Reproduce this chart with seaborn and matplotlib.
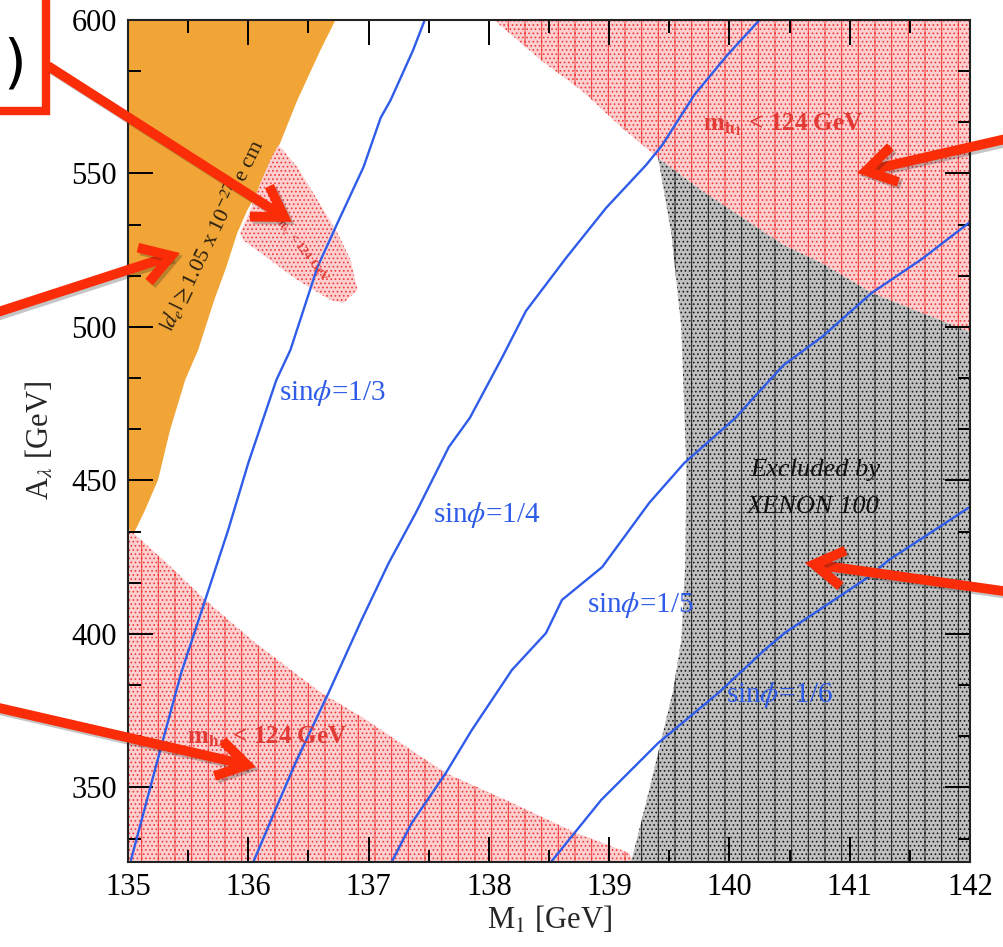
import matplotlib
matplotlib.use("Agg")
import matplotlib.pyplot as plt
import matplotlib.patheffects as pe
from matplotlib.patches import Rectangle, FancyArrowPatch
from matplotlib.ticker import MultipleLocator
import seaborn as sns

# ---------------- data (M1 [GeV], A_lambda [GeV]) ----------------
# boundary of |d_e| >= 1.05e-27 e cm region (orange), top -> bottom
edm_M = [136.725, 136.6, 136.408, 136.242, 136.125, 135.992, 135.908, 135.817,
         135.717, 135.583, 135.475, 135.35, 135.25, 135.142, 135.075, 135.0]
edm_A = [600.0, 590.2, 573.9, 557.7, 546.9, 538.1, 530.6, 519.5,
         508.8, 492.5, 482.7, 466.5, 450.2, 440.4, 434.9, 429.0]

# lower m_h1 < 124 GeV region boundary (left -> right)
mhlow_M = [135.0, 135.358, 135.642, 136.058, 136.608, 136.942, 137.642,
           138.192, 138.725, 139.167, 139.2]
mhlow_A = [434.5, 421.8, 411.1, 397.1, 380.8, 373.0, 354.7,
           345.0, 335.2, 328.7, 325.73]

# upper-right m_h1 < 124 GeV region lower boundary (left -> right)
mhup_M = [138.042, 138.442, 138.775, 139.108, 139.408, 139.775, 140.45,
          140.767, 141.183, 141.6, 142.0]
mhup_A = [600.0, 586.6, 576.9, 564.8, 555.05, 544.3, 526.7,
          520.85, 511.1, 504.6, 498.4]

# XENON100 excluded region, left boundary (top -> bottom)
xenon_M = [139.408, 139.517, 139.6, 139.642, 139.633, 139.6, 139.533,
           139.433, 139.333, 139.25, 139.183]
xenon_A = [555.05, 530.3, 499.7, 453.75, 423.1, 398.05, 381.8,
           365.5, 349.2, 336.2, 325.73]

# small m_h1 region near the EDM boundary
small_M = [136.25, 136.408, 136.575, 136.742, 136.85, 136.908, 136.792, 136.683,
           136.408, 136.183, 135.958, 135.933, 136.017, 136.1, 136.183]
small_A = [559.3, 552.1, 541.4, 530.6, 521.8, 512.1, 507.8, 508.8,
           515.3, 521.8, 528.3, 530.6, 538.1, 546.9, 554.4]

# sin(phi) contours
s3_M = [137.467, 137.367, 137.183, 137.1, 136.958, 136.742, 136.575, 136.35,
        136.233, 136.0, 135.833, 135.642, 135.442, 135.275, 135.142, 135.025]
s3_A = [600.0, 589.9, 573.9, 568.1, 552.1, 533.9, 519.5, 492.5,
        482.7, 455.7, 433.9, 411.1, 387.3, 363.2, 343.65, 326.4]
s4_M = [140.25, 139.983, 139.708, 139.442, 139.308, 138.975, 138.642, 138.308,
        138.108, 137.842, 137.667, 137.392, 137.167, 136.942, 136.667, 136.392,
        136.225, 136.042]
s4_A = [600.0, 588.6, 575.6, 559.3, 552.8, 538.8, 522.5, 505.2,
        489.9, 470.4, 460.9, 439.4, 423.1, 404.6, 380.8, 358.0,
        342.7, 325.73]
s5_M = [137.192, 137.358, 137.642, 137.858, 138.192, 138.475, 138.608, 138.942,
        139.333, 139.625, 140.05, 140.183, 140.45, 140.767, 141.183, 141.6, 142.0]
s5_A = [325.73, 338.4, 354.7, 368.7, 388.3, 400.3, 411.1, 421.8,
        442.7, 455.7, 470.4, 476.2, 487.6, 496.7, 511.1, 522.15, 534.2]
s6_M = [138.517, 138.933, 139.408, 139.908, 140.292, 140.458, 141.158, 141.325, 142.0]
s6_A = [325.73, 345.9, 364.5, 380.8, 394.8, 400.3, 418.6, 424.1, 441.4]

line_labels = ["sin$\\phi$=1/3", "sin$\\phi$=1/4", "sin$\\phi$=1/5", "sin$\\phi$=1/6"]
label_M = [136.7, 137.983, 139.258, 140.417]
label_A = [478.5, 438.8, 409.5, 380.1]

XMIN, XMAX, YMIN, YMAX = 135.0, 142.0, 325.73, 600.0

# ---------------- style ----------------
sns.set_theme(style="ticks")
plt.rcParams['font.family'] = ['Liberation Serif', 'DejaVu Serif']
plt.rcParams['mathtext.fontset'] = 'stix'
plt.rcParams['hatch.linewidth'] = 0.7

BLUE = '#2f5ce8'
ORANGE = '#f1a536'
PINK_FACE = '#fcd0d0'
PINK_DOT = '#f03a3a'
GRAY_FACE = '#c0c0c0'
GRAY_DOT = '#1a1a1a'
RED = '#fb2c08'
TXT_RED = '#e23a35'

W, H = 1004, 947
fig = plt.figure(figsize=(W / 100, H / 100), dpi=100)
ax = fig.add_axes([128 / W, 1 - 862 / H, (970 - 128) / W, (862 - 20) / H])
ax.set_xlim(XMIN, XMAX)
ax.set_ylim(YMIN, YMAX)
ax.set_axisbelow(False)

# orange EDM region
ax.fill([XMIN] + edm_M, [YMAX] + edm_A, facecolor=ORANGE, edgecolor='none', lw=0, zorder=1)
# lower pink
ax.fill(mhlow_M + [XMIN], mhlow_A + [YMIN - 5], facecolor=PINK_FACE, edgecolor=PINK_DOT,
        lw=0, hatch='|....', zorder=1.2)
# upper-right pink
ax.fill(mhup_M + [XMAX + 0.1, XMAX + 0.1], mhup_A + [498.4, YMAX + 5], facecolor=PINK_FACE,
        edgecolor=PINK_DOT, lw=0, hatch='|....', zorder=1.2)
# small pink
ax.fill(small_M, small_A, facecolor=PINK_FACE, edgecolor=PINK_DOT, lw=0, hatch='....', zorder=1.3)
# gray XENON region
gx = mhup_M[4:] + [XMAX + 0.1, XMAX + 0.1] + xenon_M[::-1][:-1]
gy = mhup_A[4:] + [498.4, YMIN - 5] + xenon_A[::-1][:-1]
ax.fill(gx, gy, facecolor=GRAY_FACE, edgecolor=GRAY_DOT, lw=0, hatch='|....', zorder=1.2)

# sin(phi) lines
for mx, ay in [(s3_M, s3_A), (s4_M, s4_A), (s5_M, s5_A), (s6_M, s6_A)]:
    sns.lineplot(x=mx, y=ay, sort=False, estimator=None, color=BLUE, lw=1.7,
                 ax=ax, legend=False, zorder=3)

for lab, lx, ly in zip(line_labels, label_M, label_A):
    ax.text(lx, ly, lab, color=BLUE, fontsize=21, ha='center', va='center', zorder=4)

# region labels
ax.text(140.442, 565.8, r"m$_{\mathbf{h_1}}$ < 124 GeV", color=TXT_RED, fontsize=18,
        fontweight='bold', ha='center', va='center', zorder=4)
ax.text(136.158, 366.4, r"m$_{\mathbf{h_1}}$ < 124 GeV", color=TXT_RED, fontsize=18,
        fontweight='bold', ha='center', va='center', zorder=4)
ax.text(136.433, 525.1, r"m$_{h_1}$ < 124 GeV", color=TXT_RED, fontsize=9,
        fontweight='bold', ha='center', va='center', rotation=-52, zorder=4)
ax.text(140.717, 453.4, "Excluded by", color='#111111', fontsize=19, style='italic',
        ha='center', va='center', zorder=4)
ax.text(140.7, 441.4, "XENON 100", color='#111111', fontsize=19, style='italic',
        ha='center', va='center', zorder=4)
ax.text(135.7, 530.0, r"$|d_e|\geq$1.05 x 10$^{-27}$ e cm", color='#2a2010', fontsize=16,
        ha='center', va='center', rotation=64, rotation_mode='anchor', zorder=4)

# axes styling
ax.xaxis.set_major_locator(MultipleLocator(1))
ax.xaxis.set_minor_locator(MultipleLocator(0.5))
ax.yaxis.set_major_locator(MultipleLocator(50))
ax.yaxis.set_minor_locator(MultipleLocator(50 / 3))
ax.tick_params(which='both', direction='in', top=True, right=True, width=1.4,
               color='black', labelsize=22, labelcolor='black')
ax.tick_params(which='major', length=18, pad=8)
ax.tick_params(which='minor', length=9)
for s in ax.spines.values():
    s.set_linewidth(1.5)
    s.set_color('#222222')
    s.set_zorder(5)
ax.set_xlabel(r"M$_1$ [GeV]", fontsize=22, labelpad=2)
ax.set_ylabel(r"A$_\lambda$ [GeV]", fontsize=22, labelpad=12)


# ---------------- slide overlays (red box and arrows) ----------------
def fp(x, y):
    return (x / W, 1 - y / H)


fig.add_artist(Rectangle(fp(-10, 111), 56 / W, 121 / H, transform=fig.transFigure,
                         fill=False, edgecolor=RED, lw=6, zorder=10))
fig.text(15 / W, 1 - 65 / H, ")", fontsize=42, family='DejaVu Sans', color='black',
         ha='center', va='center', zorder=10)

arrows = [((48, 66), (292, 222)), ((-5, 313), (180, 253)), ((1010, 138), (857, 173)),
          ((1010, 592), (805, 563)), ((-5, 707), (256, 767))]
for tail, head in arrows:
    fig.add_artist(FancyArrowPatch(fp(*tail), fp(*head), transform=fig.transFigure,
                                   arrowstyle='->,head_length=2.1,head_width=1.3',
                                   mutation_scale=10, lw=7, color=RED, shrinkA=0, shrinkB=0,
                                   joinstyle='miter', capstyle='butt', zorder=11,
                                   path_effects=[pe.SimpleLineShadow(offset=(2, -2), alpha=0.25),
                                                 pe.Normal()]))

fig.savefig("out.png", dpi=100)
